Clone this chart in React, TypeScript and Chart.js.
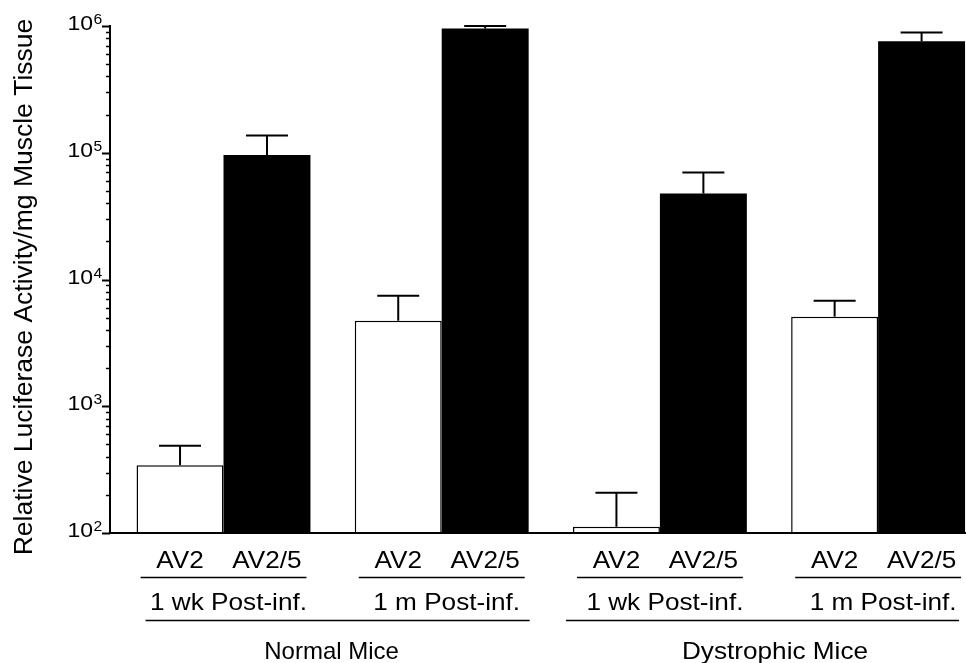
import React, { useEffect, useRef } from 'react';
import { Chart, registerables } from 'chart.js';

Chart.register(...registerables);

// ---- data ----
const vectorLabels = ['AV2', 'AV2/5'];
const conditionLabels = ['1 wk Post-inf.', '1 m Post-inf.', '1 wk Post-inf.', '1 m Post-inf.'];
const mouseGroupLabels = ['Normal Mice', 'Dystrophic Mice'];
const groupPositions = [0, 1, 2, 3];
const av2Values = [343, 4730, 112, 5090];
const av2ErrTop = [487, 7450, 208, 6810];
const av25Values = [96000, 955000, 47700, 757000];
const av25ErrTop = [137000, 1000000, 70000, 887000];
const yTickExponents = [2, 3, 4, 5, 6];
const yMin = 100;
const yMax = 1000000;

const FONT = "'Liberation Sans', Arial, Helvetica, sans-serif";
const SX = 1.09;
// style offsets for the group underline ends (left, right)
const GROUP_LINE_INSET = [
  [9, 1],
  [-7, -6],
];

function txt(ctx: CanvasRenderingContext2D, s: string, x: number, y: number, size: number, align: CanvasTextAlign = 'center', sx = SX) {
  ctx.save();
  ctx.translate(x, y);
  ctx.scale(sx, 1);
  ctx.font = `${size}px ${FONT}`;
  ctx.textAlign = align;
  ctx.textBaseline = 'alphabetic';
  ctx.fillStyle = '#000';
  ctx.fillText(s, 0, 0);
  ctx.restore();
}

const decorPlugin = {
  id: 'decor',
  afterDatasetsDraw(chart: any) {
    const ctx: CanvasRenderingContext2D = chart.ctx;
    const { left, right, top, bottom } = chart.chartArea;
    const ys = chart.scales.y;
    ctx.save();
    ctx.strokeStyle = '#000';
    ctx.fillStyle = '#000';
    ctx.lineCap = 'butt';

    // error bars
    const errs = [av2ErrTop, av25ErrTop];
    [0, 1].forEach((di) => {
      const meta = chart.getDatasetMeta(di);
      meta.data.forEach((el: any, i: number) => {
        const x = el.x;
        const y0 = el.y;
        const y1 = ys.getPixelForValue(errs[di][i]);
        ctx.lineWidth = 2;
        ctx.beginPath();
        ctx.moveTo(x, y0);
        ctx.lineTo(x, y1);
        ctx.stroke();
        ctx.beginPath();
        ctx.moveTo(x - 21, y1);
        ctx.lineTo(x + 21, y1);
        ctx.stroke();
      });
    });

    // axes lines
    ctx.lineWidth = 2;
    ctx.beginPath();
    ctx.moveTo(left, top - 1);
    ctx.lineTo(left, bottom);
    ctx.lineTo(right, bottom);
    ctx.stroke();

    // y ticks (major + minor)
    for (let e = 2; e <= 6; e++) {
      for (let m = 1; m <= 9; m++) {
        if (e === 6 && m > 1) break;
        const v = m * Math.pow(10, e);
        const y = Math.round(ys.getPixelForValue(v)) + 0.5;
        const len = m === 1 ? 8 : 4;
        ctx.lineWidth = m === 1 ? 2 : 1.5;
        ctx.beginPath();
        ctx.moveTo(left - len, y);
        ctx.lineTo(left, y);
        ctx.stroke();
      }
    }
    // y tick labels
    yTickExponents.forEach((e) => {
      const y = ys.getPixelForValue(Math.pow(10, e));
      txt(ctx, '10', 93, y + 4, 20, 'right', 1.15);
      txt(ctx, String(e), 93.5, y - 2, 14, 'left', 1.12);
    });

    // y title
    ctx.save();
    ctx.translate(25, 287);
    ctx.rotate(-Math.PI / 2);
    ctx.scale(1.06, 1);
    ctx.font = `25px ${FONT}`;
    ctx.textAlign = 'center';
    ctx.textBaseline = 'middle';
    ctx.fillText('Relative Luciferase Activity/mg Muscle Tissue', 0, 0);
    ctx.restore();

    // x labels
    const m0 = chart.getDatasetMeta(0);
    const m1 = chart.getDatasetMeta(1);
    [m0, m1].forEach((meta: any, di: number) => {
      meta.data.forEach((el: any) => {
        txt(ctx, vectorLabels[di], el.x, 568, 24);
      });
    });
    const pairL: number[] = [];
    const pairR: number[] = [];
    groupPositions.forEach((_, i) => {
      const a = m0.data[i];
      const b = m1.data[i];
      const l = a.x - a.width / 2;
      const r = b.x + b.width / 2;
      pairL.push(l);
      pairR.push(r);
      ctx.lineWidth = 1.5;
      ctx.beginPath();
      ctx.moveTo(l + 4, 577.5);
      ctx.lineTo(r - 4, 577.5);
      ctx.stroke();
      txt(ctx, conditionLabels[i], (l + r) / 2 + 5, 610, 24);
    });
    mouseGroupLabels.forEach((g, gi) => {
      const l = pairL[gi * 2];
      const r = pairR[gi * 2 + 1];
      const [il, ir] = GROUP_LINE_INSET[gi];
      ctx.lineWidth = 1.5;
      ctx.beginPath();
      ctx.moveTo(l + il, 620.5);
      ctx.lineTo(r + ir, 620.5);
      ctx.stroke();
      txt(ctx, g, (l + r) / 2 + (gi === 0 ? -1 : 6), 659, 24, 'center', gi === 0 ? 1.0 : SX);
    });

    ctx.restore();
  },
};

export default function App() {
  const ref = useRef<HTMLCanvasElement | null>(null);
  useEffect(() => {
    document.body.style.margin = '0';
    const canvas = ref.current;
    if (!canvas) return;
    const chart = new Chart(canvas, {
      type: 'bar',
      data: {
        datasets: [
          {
            label: vectorLabels[0],
            data: groupPositions.map((x, i) => ({ x, y: av2Values[i] })),
            backgroundColor: '#ffffff',
            borderColor: '#000000',
            borderWidth: 1.5,
            borderSkipped: 'bottom',
            categoryPercentage: 0.797,
            barPercentage: 1,
          } as any,
          {
            label: vectorLabels[1],
            data: groupPositions.map((x, i) => ({ x, y: av25Values[i] })),
            backgroundColor: '#000000',
            borderColor: '#000000',
            borderWidth: 0,
            categoryPercentage: 0.797,
            barPercentage: 1,
          } as any,
        ],
      },
      options: {
        animation: false,
        responsive: false,
        layout: { padding: { left: 110, top: 26, right: 0, bottom: 130 } },
        plugins: { legend: { display: false }, tooltip: { enabled: false } },
        scales: {
          x: {
            type: 'linear',
            display: false,
            min: -0.5202,
            max: 3.4028,
            offset: false,
            ticks: { stepSize: 1, includeBounds: false },
          },
          y: {
            type: 'logarithmic',
            display: false,
            min: yMin,
            max: yMax,
          },
        },
      } as any,
      plugins: [decorPlugin],
    });
    return () => chart.destroy();
  }, []);
  return <canvas ref={ref} width={966} height={663} style={{ display: 'block' }} />;
}
